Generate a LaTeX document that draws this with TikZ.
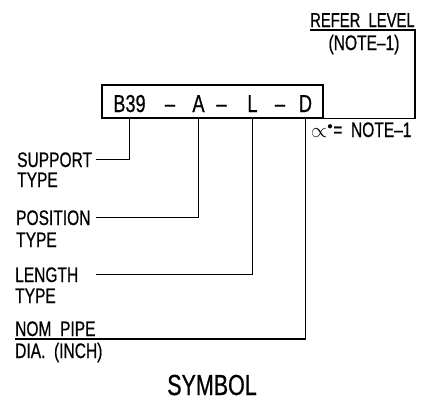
\documentclass[tikz,border=0pt]{standalone}
\usepackage{fontspec}
\setmainfont{Liberation Sans}[FakeStretch=0.74, FakeBold=0.6]
\usetikzlibrary{positioning}
\definecolor{dwgline}{RGB}{0,0,0}
\tikzset{
  lbl/.style={inner sep=0pt, anchor=base west, font=\fontsize{21}{24}\selectfont},
  tagtxt/.style={inner sep=0pt, anchor=base, font=\fontsize{24.5}{28}\selectfont},
  tagbox/.style={
    draw=dwgline, line width=1.4pt, inner sep=0pt,
    minimum width=221pt, minimum height=33pt
  },
  ldr/.style={draw=dwgline, line width=1.4pt},
  ttl/.style={inner sep=0pt, anchor=base, font=\fontsize{29}{32}\selectfont},
  every picture/.append style={line join=miter}
}

\begin{document}
\begin{tikzpicture}[x=1pt, y=-1pt]
  \useasboundingbox (0,0) rectangle (430,402);
  % symbol box
  \node[tagbox] (tag) at (212.5,101.5) {};
  \node[tagtxt] (b39) at (129.5,112) {B39};
  \node[tagtxt] (d1) at (170,112) {--};
  \node[tagtxt] (a) at (198.5,112) {A};
  \node[tagtxt] (d2) at (221.5,112) {--};
  \node[tagtxt] (l) at (252.5,112) {L};
  \node[tagtxt] (d3) at (280,112) {--};
  \node[tagtxt] (d) at (305.5,112) {D};
  % labels
  \node[lbl] (sup) at (17,167) {SUPPORT};
  \node[lbl] (sup2) at (17,187) {TYPE};
  \node[lbl] (pos) at (16,225) {POSITION};
  \node[lbl] (pos2) at (16,247) {TYPE};
  \node[lbl] (len) at (15,282) {LENGTH};
  \node[lbl] (len2) at (15,303) {TYPE};
  \node[lbl] (nom) at (15,336) {NOM\ \ PIPE};
  \node[lbl] (nom2) at (15,358) {DIA.\ \ (INCH)};
  \node[lbl, font=\fontsize{20}{24}\selectfont] (ref) at (310,27) {REFER\ \ LEVEL};
  \node[lbl, anchor=base] (ref2) at (364,50) {(NOTE--1)};
  \node[lbl] (ang) at (311,137) {$\propto^{\scriptscriptstyle\bullet}$= \ NOTE--1};
  \node[ttl] (sym) at (212,395) {SYMBOL};
  % leaders
  \coordinate (lx) at (96,0);
  \coordinate (nomend) at (15,339);
  \coordinate (rtop) at (415,30);
  \coordinate (rend) at (310,30);
  \draw[ldr] (b39 |- tag.south) |- (sup.east -| lx);
  \draw[ldr] (a |- tag.south) |- (pos.east -| lx);
  \draw[ldr] (l |- tag.south) |- (len.east -| lx);
  \draw[ldr] (d |- tag.south) |- (nomend);
  \draw[ldr] (tag.south east) -| (rtop) -- (rend);
\end{tikzpicture}
\end{document}
